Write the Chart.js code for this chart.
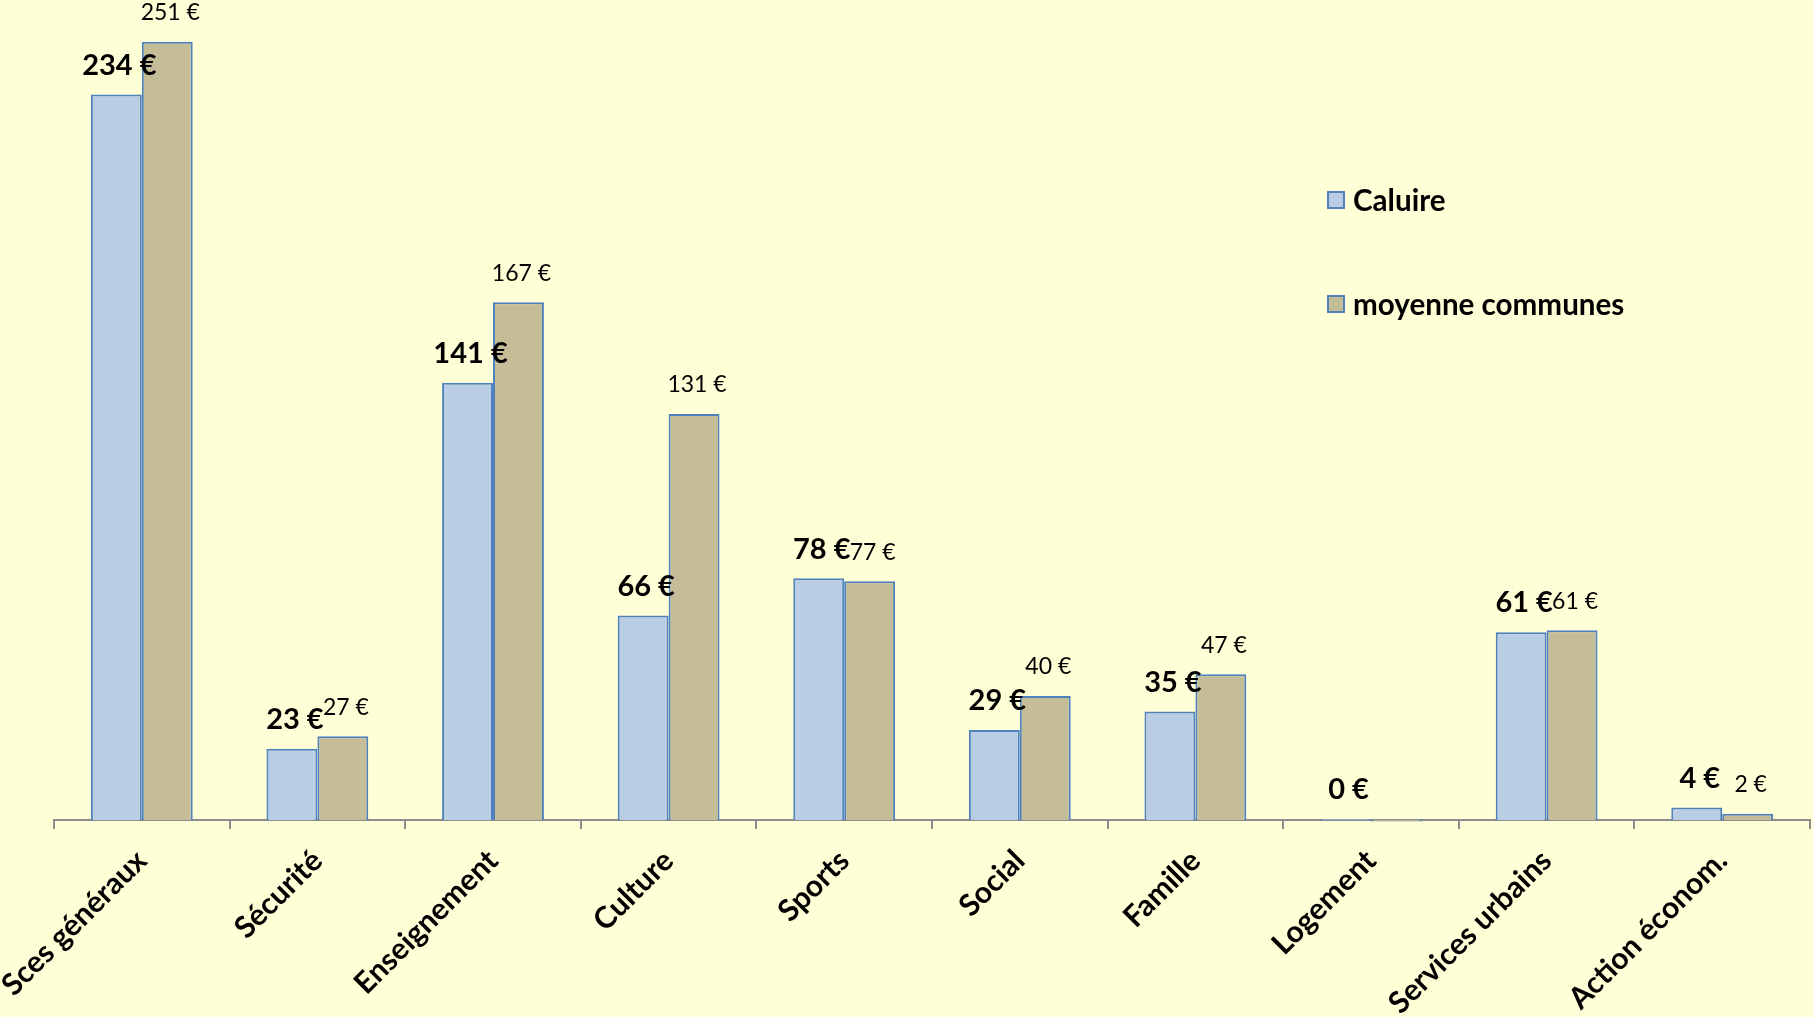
<!DOCTYPE html>
<html>
<head>
<meta charset="utf-8">
<script src="https://cdn.jsdelivr.net/npm/chart.js@4.4.1/dist/chart.umd.min.js"></script>
<style>
  html, body { margin: 0; padding: 0; background: #FFFFD7; }
  #wrap { width: 1813px; height: 1017px; }
</style>
</head>
<body>
<div id="wrap"><canvas id="budgetChart" width="1813" height="1017"></canvas></div>
<script>
const categories = ['Sces généraux', 'Sécurité', 'Enseignement', 'Culture', 'Sports',
    'Social', 'Famille', 'Logement', 'Services urbains', 'Action économ.'];
const caluire = [234, 23, 141, 66, 78, 29, 35, 0.3, 60.6, 4];
const moyenne = [251, 27, 167, 131, 77, 40, 47, -0.5, 61.2, 2];
const seriesNames = ['Caluire', 'moyenne communes'];

const FONT = 'Lato, "Open Sans", sans-serif';

document.addEventListener('DOMContentLoaded', function() {
    const ctx = document.getElementById('budgetChart').getContext('2d');

    // value labels above each bar + legend drawn inside the plot
    const labelsPlugin = {
        id: 'barLabels',
        afterDatasetsDraw(chart) {
            const c = chart.ctx;
            c.save();
            c.textAlign = 'center';
            c.textBaseline = 'middle';
            c.fillStyle = '#000';
            chart.data.datasets.forEach(function(ds, i) {
                const meta = chart.getDatasetMeta(i);
                c.font = (i === 0 ? 'bold 29px ' : '23px ') + FONT;
                meta.data.forEach(function(bar, j) {
                    const v = ds.data[j];
                    if (v < 0) return;
                    c.fillText(Math.round(v) + ' €', bar.x + 3, bar.y - 29);
                });
            });

            // legend
            const items = [{y: 200, ds: chart.data.datasets[0]}, {y: 304, ds: chart.data.datasets[1]}];
            c.textAlign = 'left';
            c.font = 'bold 29.6px ' + FONT;
            items.forEach(function(it) {
                c.fillStyle = it.ds.backgroundColor;
                c.fillRect(1328, it.y - 8, 16, 16);
                c.strokeStyle = '#4F81BD';
                c.lineWidth = 2;
                c.strokeRect(1328, it.y - 8, 16, 16);
                c.fillStyle = '#000';
                c.fillText(it.ds.label, 1353, it.y + 1);
            });
            c.restore();
        }
    };

    new Chart(ctx, {
        type: 'bar',
        data: {
            labels: categories,
            datasets: [{
                label: seriesNames[0],
                data: caluire,
                backgroundColor: '#B9CDE5',
                borderColor: '#4F81BD',
                borderWidth: 2,
                clip: false
            }, {
                label: seriesNames[1],
                data: moyenne,
                backgroundColor: '#C4BD97',
                borderColor: '#4F81BD',
                borderWidth: 2,
                clip: false
            }]
        },
        options: {
            responsive: false,
            animation: false,
            categoryPercentage: 0.58,
            barPercentage: 1.0,
            layout: { padding: { left: 54, right: 3, top: 0, bottom: 0 } },
            plugins: {
                legend: { display: false },
                tooltip: { enabled: false }
            },
            scales: {
                y: {
                    display: false,
                    min: 0,
                    max: 264.5
                },
                x: {
                    grid: {
                        display: true,
                        offset: true,
                        drawOnChartArea: false,
                        drawTicks: true,
                        tickLength: 9,
                        color: '#8C8C8C',
                        lineWidth: 2
                    },
                    border: { display: true, color: '#8C8C8C', width: 2 },
                    ticks: {
                        color: '#000',
                        font: { family: FONT, size: 30, weight: 'bold' },
                        minRotation: 45,
                        maxRotation: 45,
                        autoSkip: false,
                        padding: 14
                    },
                    afterFit(scale) {
                        scale.height = 197;
                        scale.paddingLeft = 0;
                        scale.paddingRight = 0;
                    }
                }
            }
        },
        plugins: [labelsPlugin]
    });
});
</script>
</body>
</html>
